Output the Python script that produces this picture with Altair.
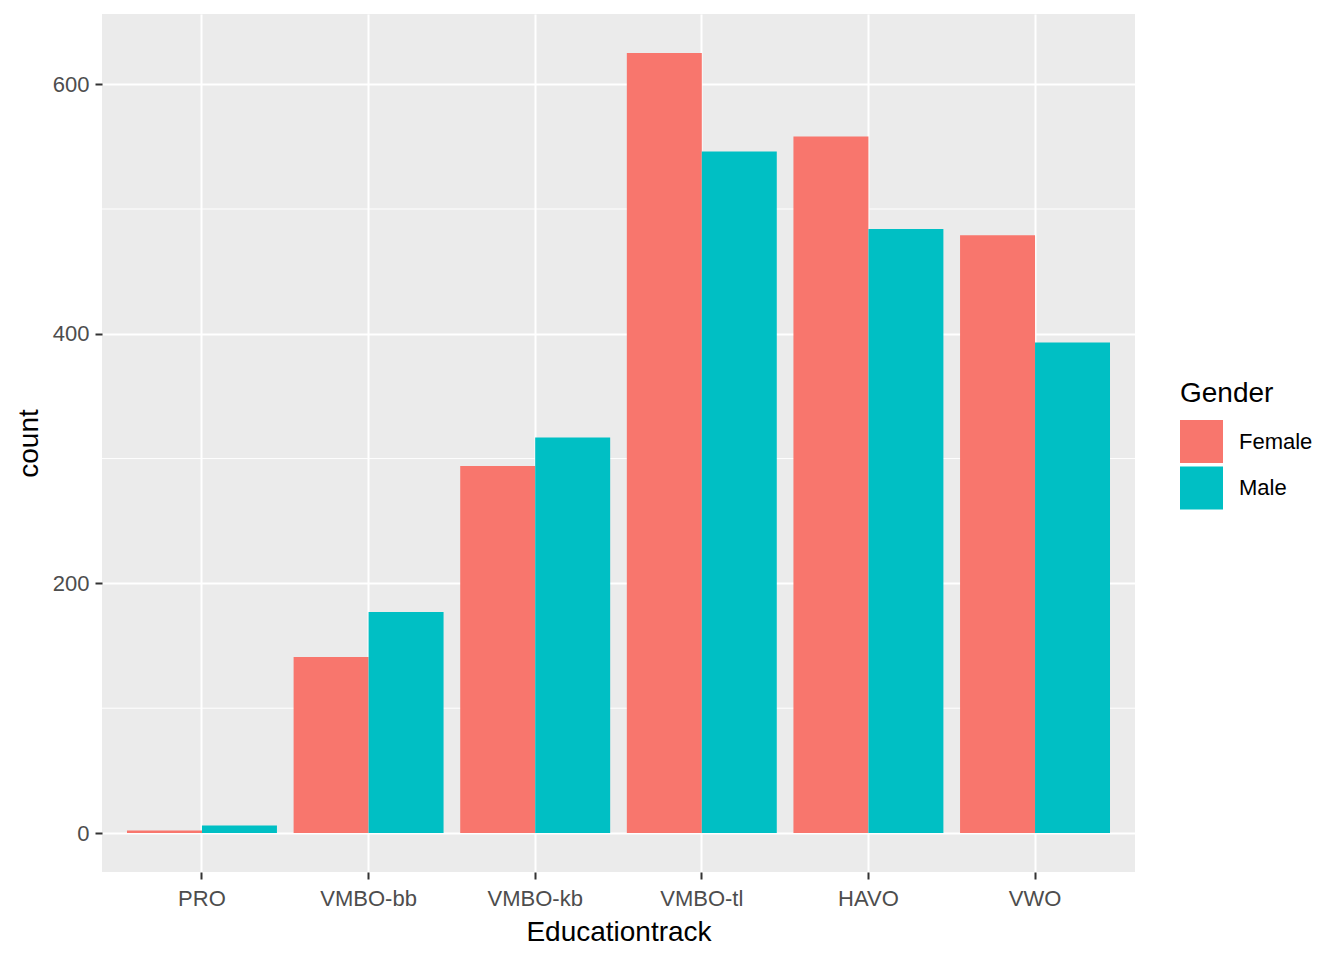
import altair as alt
import pandas as pd

tracks = ["PRO", "VMBO-bb", "VMBO-kb", "VMBO-tl", "HAVO", "VWO"]
female = [2, 141, 294, 625, 558, 479]
male = [6, 177, 317, 546, 484, 393]
genders = ["Female", "Male"]
colors = ["#F8766D", "#00BFC4"]
major_ticks = [0, 200, 400, 600]
minor_ticks = [100, 300, 500]

rows = []
for t, f, m in zip(tracks, female, male):
    rows.append({"Educationtrack": t, "Gender": "Female", "count": f})
    rows.append({"Educationtrack": t, "Gender": "Male", "count": m})
df = pd.DataFrame(rows)
minor_df = pd.DataFrame({"v": minor_ticks})

ymax = max(female + male)
ydom = [-0.05 * ymax, 1.05 * ymax]
FONT = "Liberation Sans"

yscale = alt.Scale(domain=ydom, nice=False, zero=False)

minor = alt.Chart(minor_df).mark_rule(color="white", strokeWidth=1).encode(
    y=alt.Y("v:Q", scale=yscale)
)

bars = alt.Chart(df).mark_bar(strokeWidth=0).encode(
    x=alt.X(
        "Educationtrack:N",
        sort=tracks,
        scale=alt.Scale(paddingInner=0.1, paddingOuter=0.15),
        axis=alt.Axis(
            title="Educationtrack",
            labelAngle=0,
            grid=True,
            bandPosition=0.5,
            gridColor="white",
            gridWidth=2,
            tickBand="center",
            labelPadding=9,
            titlePadding=9,
        ),
    ),
    xOffset=alt.XOffset("Gender:N", sort=genders, scale=alt.Scale(paddingInner=0, paddingOuter=0)),
    y=alt.Y(
        "count:Q",
        scale=yscale,
        axis=alt.Axis(
            title="count",
            values=major_ticks,
            grid=True,
            gridColor="white",
            gridWidth=2,
            labelPadding=6,
            titlePadding=9,
        ),
    ),
    y2=alt.datum(0),
    color=alt.Color(
        "Gender:N",
        sort=genders,
        scale=alt.Scale(domain=genders, range=colors),
        legend=alt.Legend(
            title="Gender",
            orient="none",
            legendX=1078,
            legendY=366,
            symbolType="square",
            symbolSize=1849,
            symbolStrokeWidth=0,
            symbolOpacity=1,
            rowPadding=3.5,
            labelOffset=16,
            titlePadding=12,
            labelFontSize=22,
            titleFontSize=28,
            labelFont=FONT,
            titleFont=FONT,
            labelColor="black",
            titleColor="black",
            titleFontWeight="normal",
        ),
    ),
)

chart = (
    alt.layer(minor, bars)
    .properties(
        width=1033,
        height=858,
        autosize=alt.AutoSizeParams(type="none"),
        padding={"left": 94, "top": 6, "right": 200, "bottom": 80},
        background="white",
    )
    .configure_view(fill="#EBEBEB", stroke=None)
    .configure_axis(
        domain=False,
        tickColor="#333333",
        tickWidth=2,
        tickSize=7,
        labelColor="#4D4D4D",
        labelFont=FONT,
        labelFontSize=22,
        titleFont=FONT,
        titleFontSize=28,
        titleFontWeight="normal",
        titleColor="black",
    )
)

chart.save("out.html", embed_options={"renderer": "svg", "actions": False})
